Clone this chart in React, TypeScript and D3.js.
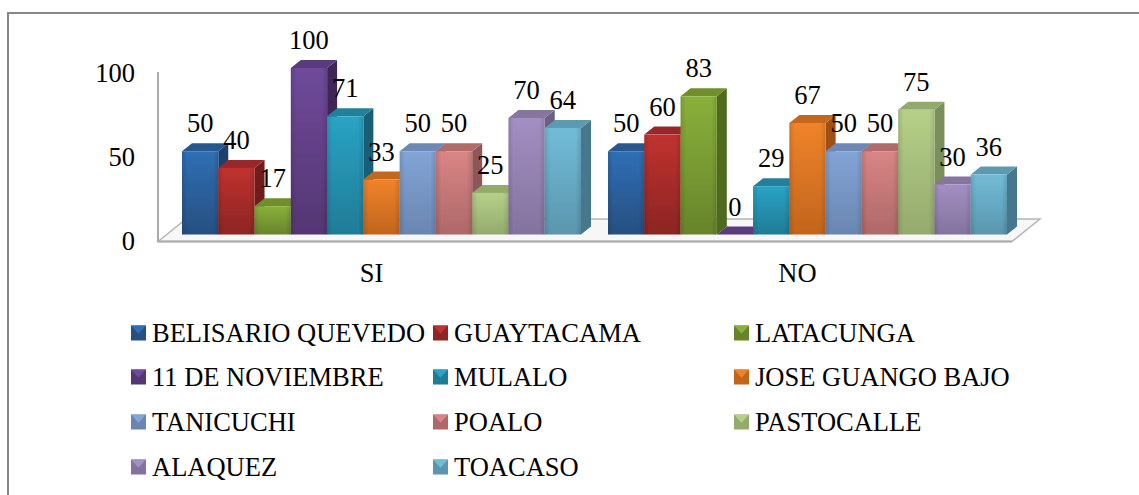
import React from "react";
import * as d3 from "d3";

const categories = ["SI", "NO"];
const seriesNames = ["BELISARIO QUEVEDO", "GUAYTACAMA", "LATACUNGA", "11 DE NOVIEMBRE", "MULALO", "JOSE GUANGO BAJO", "TANICUCHI", "POALO", "PASTOCALLE", "ALAQUEZ", "TOACASO"];
const siValues = [50, 40, 17, 100, 71, 33, 50, 50, 25, 70, 64];
const noValues = [50, 60, 83, 0, 29, 67, 50, 50, 75, 30, 36];
const tickValues = [0, 50, 100];
const light = ["#2f6fb5", "#c0322f", "#8ab03a", "#6f4a9a", "#2aa3c4", "#f0832a", "#82a4d6", "#d98585", "#b6d088", "#a38fc2", "#72bcd8"];
const dark = ["#274f80", "#8c2523", "#67842b", "#543672", "#1f7c96", "#c1651d", "#6a86b0", "#ae6868", "#94aa6e", "#83739e", "#5a96ad"];
const side = ["#1f3f69", "#6f1d1b", "#4f6a1f", "#3f2857", "#175f74", "#a05012", "#5a7194", "#8f5658", "#7a8f5a", "#6c5e84", "#46778c"];
const top_ = ["#27588f", "#99282a", "#6f8f2c", "#5a3a7e", "#22809a", "#c4661c", "#6c89b5", "#b06a6a", "#92aa6c", "#86749f", "#5c9ab0"];

const legendCols = [131, 433, 734];
const legendRows = [333, 377, 422, 467];
const FONT = "'Liberation Serif', serif";
const FS = 26.5;

const x0 = d3.scaleBand<string>().domain(categories).range([168.5, 1020.5]);
const x1 = d3.scaleBand<string>().domain(seriesNames).range([13.5, 412.5]);
const y = d3.scaleLinear().domain([0, 100]).range([234.5, 68]);
const yAxis = d3.scaleLinear().domain([0, 100]).range([242, 74]);
const DX = 10, DY = 8;

export default function App() {
  const rows = categories.map((c, k) => ({ c, values: k === 0 ? siValues : noValues }));
  return (
    <svg width={1139} height={495} style={{ position: "absolute", left: 0, top: 0, background: "#fff" }} fontFamily={FONT}>
      <defs>
        {seriesNames.map((_, i) => (
          <linearGradient id={`g${i}`} key={i} x1="0" y1="0" x2="0" y2="1">
            <stop offset="0" stopColor={light[i]} />
            <stop offset="1" stopColor={dark[i]} />
          </linearGradient>
        ))}
        <linearGradient id="edge" x1="0" x2="1" y1="0" y2="0">
          <stop offset="0" stopColor="#000" stopOpacity={0.12} />
          <stop offset="0.15" stopColor="#000" stopOpacity={0} />
          <stop offset="0.85" stopColor="#000" stopOpacity={0} />
          <stop offset="1" stopColor="#000" stopOpacity={0.12} />
        </linearGradient>
        <filter id="soft"><feGaussianBlur stdDeviation="0.5" /></filter>
      </defs>

      <path d="M8 495V13H1139" fill="none" stroke="#888" strokeWidth={2} />

      <path d="M158 241.5L186 219H1040L1012 241.5Z" fill="#f7f7f7" stroke="#b5b5b5" strokeWidth={1.5} />
      <path d="M158 241.5H1012" stroke="#aaa" strokeWidth={2} />
      <path d="M158 242V72" stroke="#aaa" strokeWidth={2} />

      <g filter="url(#soft)">
        {rows.map(({ c, values }) =>
          values.map((v, i) => {
            const name = seriesNames[i];
            const xL = x0(c)! + x1(name)!;
            const w = x1.bandwidth();
            const yT = y(v), yB = y(0);
            return (
              <g key={c + name}>
                <path d={`M${xL + w} ${yT}l${DX} ${-DY}V${yB - DY}l${-DX} ${DY}Z`} fill={side[i]} />
                <path d={`M${xL} ${yT}l${DX} ${-DY}h${w}l${-DX} ${DY}Z`} fill={top_[i]} />
                <rect x={xL} y={yT} width={w} height={Math.max(yB - yT, 0)} fill={`url(#g${i})`} />
                <rect x={xL} y={yT} width={w} height={Math.max(yB - yT, 0)} fill="url(#edge)" />
              </g>
            );
          })
        )}
      </g>

      {rows.map(({ c, values }) =>
        values.map((v, i) => (
          <text key={c + i} x={x0(c)! + x1(seriesNames[i])! + x1.bandwidth() / 2} y={y(v) - 19} textAnchor="middle" fontSize={FS} fill="#000">{v}</text>
        ))
      )}

      {tickValues.map((t) => (
        <text key={t} x={135} y={yAxis(t) + 8} textAnchor="end" fontSize={FS} fill="#000">{t}</text>
      ))}
      {categories.map((c) => (
        <text key={c} x={x0(c)! + x0.bandwidth() / 2 - 10} y={282} textAnchor="middle" fontSize={FS} fill="#000">{c}</text>
      ))}

      {seriesNames.map((name, i) => {
        const col = i % 3, row = Math.floor(i / 3);
        const sx = legendCols[col], cy = legendRows[row];
        const s = 15;
        return (
          <g key={name}>
            <rect x={sx} y={cy - s / 2} width={s} height={s} fill={dark[i]} />
            <path d={`M${sx} ${cy - s / 2}h${s}l${-s / 2} ${s * 0.55}Z`} fill={light[i]} />
            <text x={sx + 21} y={cy + 8.5} fontSize={FS} fill="#000">{name}</text>
          </g>
        );
      })}
    </svg>
  );
}
